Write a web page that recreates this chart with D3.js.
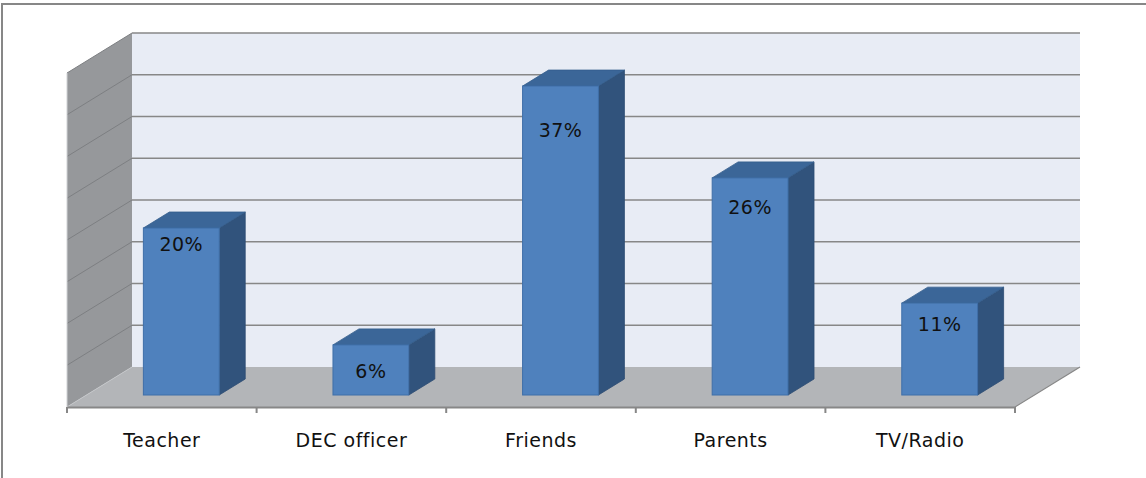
<!DOCTYPE html>
<html>
<head>
<meta charset="utf-8">
<script src="https://cdn.jsdelivr.net/npm/d3@7"></script>
<style>
  html, body { margin: 0; padding: 0; background: #fff; }
  svg { display: block; }
</style>
</head>
<body>
<svg id="chart" width="1146" height="478"></svg>
<script>
// Sources of information, share of respondents (%)
const categories = ["Teacher", "DEC officer", "Friends", "Parents", "TV/Radio"];
const shares = [20, 6, 37, 26, 11];
const valueTicks = [0, 5, 10, 15, 20, 25, 30, 35, 40];

// Layout of the 3D box
const frontLeft = 67, frontRight = 1015;   // front edge of the floor
const floorFrontY = 407;                     // y of front floor edge
const depthX = 65, depthY = -40;             // offset from front plane to back wall
const plotH = 334;                           // height of the value range
const barDepthFrac = 0.3;                    // bars sit 30% into the box
const barDX = 26, barDY = -16;               // bar thickness in depth
const barWidthFrac = 0.4;
// label drop below each bar's top edge (label centre)
const labelDrop = [16, 26, 44, 29, 21];

const fontFamily = "DejaVu Sans, sans-serif";
const fontSize = 19;
const letterSpacing = 0.5;

const svg = d3.select("#chart");

const x = d3.scaleBand().domain(categories).range([frontLeft, frontRight]);
const y = d3.scaleLinear().domain([0, d3.max(valueTicks)]).range([0, plotH]);

// outer chart frame
svg.append("rect")
  .attr("x", 2).attr("y", 4).attr("width", 1160).attr("height", 490)
  .attr("fill", "none").attr("stroke", "#878787").attr("stroke-width", 2);

const backLeft = frontLeft + depthX, backRight = frontRight + depthX;
const backFloorY = floorFrontY + depthY;

// back wall
svg.append("rect")
  .attr("x", backLeft).attr("y", backFloorY - plotH)
  .attr("width", backRight - backLeft).attr("height", plotH)
  .attr("fill", "#E8ECF5");

// left side wall
svg.append("polygon")
  .attr("points", [
    [frontLeft, floorFrontY], [frontLeft, floorFrontY - plotH],
    [backLeft, backFloorY - plotH], [backLeft, backFloorY]
  ].map(p => p.join(",")).join(" "))
  .attr("fill", "#96989B");

// floor
svg.append("polygon")
  .attr("points", [
    [frontLeft, floorFrontY], [backLeft, backFloorY],
    [backRight, backFloorY], [frontRight, floorFrontY]
  ].map(p => p.join(",")).join(" "))
  .attr("fill", "#B3B5B8");

// gridlines: across the back wall and down the side wall
const grid = svg.append("g").attr("stroke", "#878787").attr("fill", "none");
valueTicks.forEach(v => {
  const yb = backFloorY - y(v);
  const yf = floorFrontY - y(v);
  if (v > 0) {
    grid.append("line").attr("x1", backLeft).attr("x2", backRight)
      .attr("y1", yb).attr("y2", yb).attr("stroke-width", 1.6);
  }
  grid.append("line").attr("x1", frontLeft).attr("y1", yf)
    .attr("x2", backLeft).attr("y2", yb)
    .attr("stroke", v === 0 ? "#c4c6c9" : "#7d7f82").attr("stroke-width", 1);
});
// side wall front edge
grid.append("line").attr("x1", frontLeft).attr("x2", frontLeft)
  .attr("y1", floorFrontY).attr("y2", floorFrontY - plotH)
  .attr("stroke", "#d0d2d5").attr("stroke-width", 1);
// floor right edge
grid.append("line").attr("x1", frontRight).attr("y1", floorFrontY)
  .attr("x2", backRight).attr("y2", backFloorY).attr("stroke-width", 1.2);

// category axis along the front floor edge
const axisG = svg.append("g").attr("transform", `translate(0,${floorFrontY})`);
axisG.call(d3.axisBottom(x).tickSize(0).tickPadding(27));
axisG.select(".domain").attr("stroke", "#878787").attr("stroke-width", 2);
axisG.selectAll("text")
  .attr("font-family", fontFamily)
  .attr("font-size", fontSize).attr("letter-spacing", letterSpacing)
  .attr("fill", "#111");
// tick marks on category boundaries
const bounds = categories.map(c => x(c)).concat([frontRight]);
axisG.selectAll("line.bound").data(bounds).join("line")
  .attr("class", "bound")
  .attr("x1", d => d).attr("x2", d => d).attr("y1", 0).attr("y2", 6)
  .attr("stroke", "#878787").attr("stroke-width", 2);

// bars
const shiftX = depthX * barDepthFrac;
const barFloorY = floorFrontY + depthY * barDepthFrac;
const bw = x.bandwidth() * barWidthFrac;

const bars = svg.append("g").selectAll("g.bar")
  .data(categories.map((c, i) => ({ c, v: shares[i], i })))
  .join("g").attr("class", "bar");

bars.each(function(d) {
  const g = d3.select(this);
  const x0 = x(d.c) + x.bandwidth() / 2 + shiftX - bw / 2;
  const x1 = x0 + bw;
  const yTop = barFloorY - y(d.v);
  const yBot = barFloorY;
  // right side face
  g.append("polygon")
    .attr("points", [[x1, yBot], [x1, yTop], [x1 + barDX, yTop + barDY], [x1 + barDX, yBot + barDY]]
      .map(p => p.join(",")).join(" "))
    .attr("fill", "#31537C").attr("stroke", "#2c4b72").attr("stroke-width", 0.8);
  // top face
  g.append("polygon")
    .attr("points", [[x0, yTop], [x0 + barDX, yTop + barDY], [x1 + barDX, yTop + barDY], [x1, yTop]]
      .map(p => p.join(",")).join(" "))
    .attr("fill", "#3B6698").attr("stroke", "#345d8c").attr("stroke-width", 0.8);
  // front face
  g.append("rect")
    .attr("x", x0).attr("y", yTop).attr("width", bw).attr("height", yBot - yTop)
    .attr("fill", "#4F81BD").attr("stroke", "#3F6FA8").attr("stroke-width", 1);
  // value label
  g.append("text")
    .attr("x", (x0 + x1) / 2).attr("y", yTop + labelDrop[d.i])
    .attr("dy", "0.35em").attr("text-anchor", "middle")
    .attr("font-family", fontFamily).attr("font-size", fontSize)
    .attr("letter-spacing", letterSpacing)
    .attr("fill", "#111")
    .text(d.v + "%");
});
</script>
</body>
</html>
